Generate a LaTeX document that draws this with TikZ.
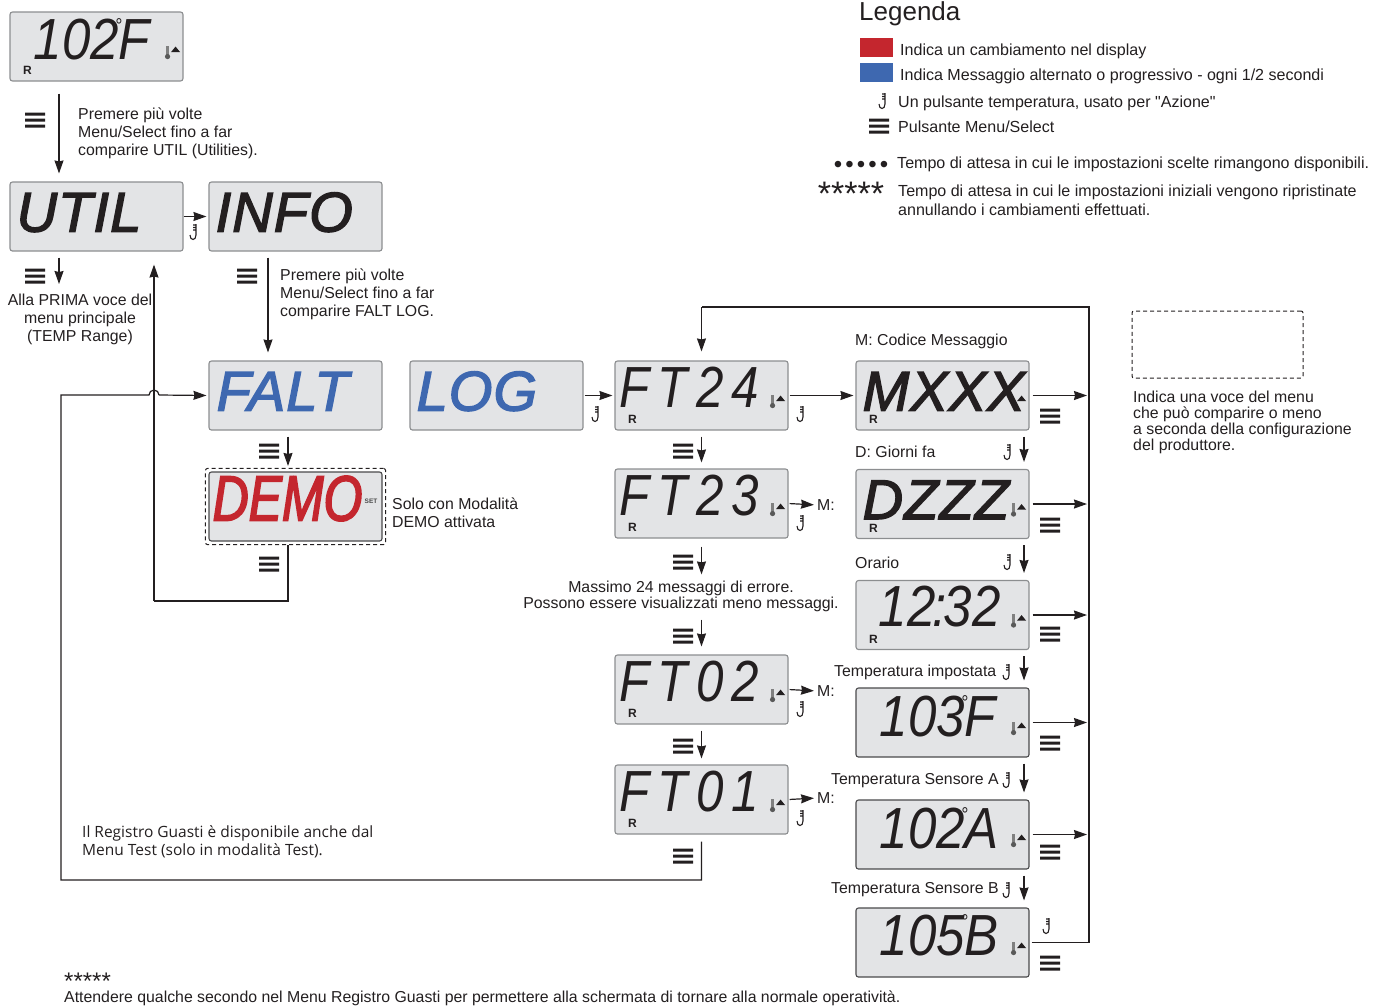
\documentclass[tikz,border=0pt]{standalone}
\usepackage{fontspec}
\setmainfont{Liberation Sans}[Ligatures=TeXOff]
\setsansfont{Liberation Sans}
\newfontfamily\testfont{Open Sans}
\usetikzlibrary{arrows.meta,fit}
\definecolor{panelgray}{HTML}{E3E4E6}
\definecolor{edgegray}{HTML}{8C8E90}
\definecolor{edgedark}{HTML}{4A4A4C}
\definecolor{inkblack}{HTML}{231F20}
\definecolor{msgred}{HTML}{C4262E}
\definecolor{msgblue}{HTML}{3E68B0}
\newcommand{\lcddeg}{\kern-4pt\raisebox{27pt}{\fontsize{20}{20}\selectfont °}\kern-3pt}
\tikzset{
  panel/.style={draw=edgegray, fill=panelgray, line width=1.1pt, rounded corners=2.5pt,
                minimum width=173pt, minimum height=69pt, inner sep=0pt},
  paneldark/.style={panel, draw=edgedark},
  lcdtxt/.style={text=inkblack, inner sep=0pt, anchor=base west, text depth=0pt},
  lcdnum/.style={lcdtxt, font=\fontsize{58}{58}\selectfont\itshape\addfontfeature{FakeStretch=.88}},
  lcdft/.style={lcdtxt, font=\fontsize{58}{58}\selectfont\itshape\addfontfeature{FakeStretch=.85,LetterSpace=14}},
  lcdbig/.style={lcdtxt, font=\fontsize{56}{56}\selectfont\itshape\addfontfeature{FakeBold=2.5,LetterSpace=2}},
  lcdblue/.style={lcdbig, text=msgblue},
  lcdred/.style={lcdtxt, text=msgred, font=\fontsize{64}{64}\selectfont\itshape\addfontfeature{FakeStretch=.78,FakeBold=2.5}},
  rmark/.style={font=\fontsize{12}{12}\selectfont\bfseries, text=inkblack, inner sep=0pt},
  note/.style={font=\fontsize{15.85}{18}\selectfont, text=inkblack, align=left, anchor=west, inner sep=0pt},
  legnote/.style={note, font=\fontsize{16.05}{19}\selectfont},
  flow/.style={draw=inkblack, line width=1.2pt},
  flowtip/.style={flow, -{Stealth[length=13pt,width=9pt,inset=1pt]}, shorten <=3pt, shorten >=2pt},
  optbox/.style={draw=inkblack, dash pattern=on 4pt off 3pt, line width=1pt, rounded corners=2pt, inner sep=3pt},
  menuicon/.pic={\fill[inkblack] (-10,-7.5) rectangle (10,-4.5) (-10,-1.5) rectangle (10,1.5) (-10,4.5) rectangle (10,7.5);},
  hookicon/.pic={\draw[inkblack, line width=1.1pt] (2,-7) -- (2,4) .. controls (2,10) and (-4,10) .. (-4,4)
                   (-1,-6) -- (2,-6) (-1,-3.5) -- (2,-3.5) (-1,-1) -- (2,-1);},
  thermicon/.pic={\fill[black!50] (-1.5,-7) rectangle (1.5,3); \fill[black!65] (0,4) circle (2.6);},
  upmark/.pic={\fill[inkblack] (-4.5,2.5) -- (4.5,2.5) -- (0,-3) -- cycle;},
}
\begin{document}
\begin{tikzpicture}[x=1pt,y=-1pt]
  \useasboundingbox (0,0) rectangle (1375,1005);

  % display panels: name, position, panel style, text style, text, text offset
  \foreach \nm/\cx/\cy/\pst/\tst/\tx/\ox/\oy in {
    temp/96.5/46.5/panel/lcdnum/102\lcddeg F/24/22,
    util/96.5/216.5/panel/lcdbig/UTIL/7/20,
    info/295.5/216.5/panel/lcdbig/INFO/7/20,
    falt/295.5/395.5/panel/lcdblue/FALT/8/20,
    log/496.5/395.5/panel/lcdblue/LOG/7/20,
    demo/295.5/506.5/paneldark/lcdred/DEMO/4/21,
    ft24/701.5/395.5/panel/lcdft/FT24/5/23,
    ft23/701.5/503.5/panel/lcdft/FT23/5/23,
    ft02/701.5/689.5/panel/lcdft/FT02/5/23,
    ft01/701.5/799.5/panel/lcdft/FT01/5/23,
    mxxx/942.5/395.5/panel/lcdbig/MXXX/7/20,
    dzzz/942.5/504/panel/lcdbig/DZZZ/7/20,
    clock/942.5/615/panel/lcdnum/12\kern-3pt:\kern-3pt32/23/24,
    t103/942.5/722.5/paneldark/lcdnum/103\lcddeg F/24/21,
    t102/942.5/834.5/paneldark/lcdnum/102\lcddeg A/24/21,
    t105/942.5/942.5/paneldark/lcdnum/105\lcddeg B/24/22}
  {
    \node[\pst] (\nm) at (\cx,\cy) {};
    \node[\tst] (\nm txt) at ([shift={(\ox pt,\oy pt)}]\nm.south west) {\tx};
  }
  \foreach \nm in {temp,ft24,ft23,ft02,ft01,mxxx,dzzz,clock}
    \node[rmark] (\nm r) at ([shift={(18pt,11pt)}]\nm.south west) {R};
  \foreach \nm in {temp,ft24,ft23,ft02,ft01,dzzz,clock,t103,t102,t105}
    \pic at ([shift={(-16pt,29pt)}]\nm.south east) {thermicon};
  \foreach \nm in {temp,ft24,ft23,ft02,ft01,mxxx,dzzz,clock,t103,t102,t105}
    \pic at ([shift={(-8pt,32pt)}]\nm.south east) {upmark};
  \node[font=\fontsize{6.5}{7}\selectfont\bfseries, text=black!70, inner sep=0pt] (demoset) at (371,501) {SET};
  \node[optbox, fit=(demo)] (demoopt) {};

  % notes
  \node[note] (utilnote) at (78,133) {Premere più volte\\Menu/Select fino a far\\comparire UTIL (Utilities).};
  \node[note, align=center, anchor=center] (allanote) at (80,319) {Alla PRIMA voce del\\menu principale\\(TEMP Range)};
  \node[note] (infonote) at (280,294) {Premere più volte\\Menu/Select fino a far\\comparire FALT LOG.};
  \node[note] (demonote) at (392,513) {Solo con Modalità\\DEMO attivata};
  \node[note, align=center, anchor=center, font=\fontsize{15.85}{16}\selectfont] (maxnote) at (681,596) {Massimo 24 messaggi di errore.\\Possono essere visualizzati meno messaggi.};
  \node[note, font=\fontsize{15.5}{18}\selectfont\testfont] (testnote) at (82,842) {Il Registro Guasti è disponibile anche dal\\Menu Test (solo in modalità Test).};
  \node[note, font=\fontsize{24}{24}\selectfont] (starsnote) at (64,981) {*****};
  \node[note] (waitnote) at (64,998) {Attendere qualche secondo nel Menu Registro Guasti per permettere alla schermata di tornare alla normale operatività.};
  \node[note] (mlabel) at (855,341) {M: Codice Messaggio};
  \node[note] (dlabel) at (855,452) {D: Giorni fa};
  \node[note] (olabel) at (855,563) {Orario};
  \node[note] (tilabel) at (834,672) {Temperatura impostata};
  \node[note] (talabel) at (831,781) {Temperatura Sensore A};
  \node[note] (tblabel) at (831,890) {Temperatura Sensore B};
  \node[note] (m23) at (817,505) {M:};
  \node[note] (m02) at (817,691) {M:};
  \node[note] (m01) at (817,798) {M:};

  % optional item key
  \node[optbox, minimum width=171pt, minimum height=67pt] (optkey) at (1217.5,344.5) {};
  \node[note, font=\fontsize{15.85}{16}\selectfont] (optnote) at (1133,422.5) {Indica una voce del menu\\che può comparire o meno\\a seconda della configurazione\\del produttore.};

  % legend
  \node[note, font=\fontsize{26}{28}\selectfont] (legtitle) at (859,13.5) {Legenda};
  \node[fill=msgred, minimum width=33pt, minimum height=19pt, inner sep=0pt] (legred) at (876.5,47.5) {};
  \node[fill=msgblue, minimum width=33pt, minimum height=19pt, inner sep=0pt] (legblue) at (876.5,72.5) {};
  \node[legnote] (legredtxt) at (900,51.5) {Indica un cambiamento nel display};
  \node[legnote] (legbluetxt) at (900,76.5) {Indica Messaggio alternato o progressivo - ogni 1/2 secondi};
  \node[legnote] (leghooktxt) at (898,103) {Un pulsante temperatura, usato per "Azione"};
  \node[legnote] (legmenutxt) at (898,127) {Pulsante Menu/Select};
  \node[note, anchor=center, font=\fontsize{24}{24}\selectfont\addfontfeature{LetterSpace=13}] (legdots) at (861,167) {•••••};
  \node[legnote] (legdotstxt) at (897,164) {Tempo di attesa in cui le impostazioni scelte rimangono disponibili.};
  \node[note, anchor=center, font=\fontsize{34}{34}\selectfont] (legstars) at (851,194) {*****};
  \node[legnote] (legstarstxt) at (898,200) {Tempo di attesa in cui le impostazioni iniziali vengono ripristinate\\annullando i cambiamenti effettuati.};

  % buttons
  \foreach \px/\py in {35/120,35/276,247/276,269/451,269/564,683/451,683/562,683/636,683/746,683/856,
                       1050/416,1050/525,1050/634,1050/743,1050/852,1050/963,879/126}
    \pic at (\px,\py) {menuicon};
  \foreach \px/\py in {194/231,596/413,801/413,801/522,801/708,801/817,
                       1008/451,1008/561,1007/671,1007/779,1007/889,1047/925,883/100}
    \pic at (\px,\py) {hookicon};

  % connectors
  \coordinate (rail) at (1089,307);
  \coordinate (backturn) at (154,601);
  \coordinate (retturn) at (61,880);
  \coordinate (hop) at (154,395);
  \coordinate (allatop) at (59,286);

  \draw[flowtip] ([xshift=-37.5pt,yshift=-9pt]temp.south) -- ([xshift=-37.5pt,yshift=6pt]util.north);
  \draw[flowtip, shorten <=0pt] (util.east) -- (info.west);
  \draw[flowtip] ([xshift=-37.5pt,yshift=-3pt]util.south) -- (allatop);
  \draw[flowtip] ([xshift=-27.5pt,yshift=-3pt]info.south) -- ([xshift=-27.5pt,yshift=6pt]falt.north);
  \draw[flowtip] ([xshift=-7.5pt,yshift=-3pt]falt.south) -- ([xshift=-7.5pt]demoopt.north);
  \draw[flow] ([xshift=-7.5pt]demoopt.south) |- (backturn);
  \draw[flowtip, shorten <=0pt] (backturn) -- ([yshift=-11pt]util.south -| backturn);
  \draw[flow] (ft01.south) ++(0,7) -- (ft01.south |- retturn) -- (retturn) -- (retturn |- hop)
    -- ([xshift=-5pt]hop) arc[start angle=180, end angle=0, radius=5pt] -- ++(0,0);
  \draw[flowtip, shorten <=0pt] ([xshift=5pt]hop) -- (falt.west);
  \draw[flowtip, shorten <=1pt] (log.east) -- (ft24.west);
  \draw[flowtip, shorten <=1pt] (ft24.east) -- (mxxx.west);
  \draw[flowtip, shorten <=1pt, shorten >=3pt] (ft23.east) -- (m23.west);
  \draw[flowtip, shorten <=1pt, shorten >=3pt] (ft02.east) -- (m02.west);
  \draw[flowtip, shorten <=1pt, shorten >=3pt] (ft01.east) -- (m01.west);
  \draw[flowtip, shorten <=6pt, shorten >=6pt] (ft24.south) -- (ft23.north);
  \draw[flowtip, shorten <=8pt, shorten >=6pt] (ft23.south) -- (ft23.south |- maxnote.north);
  \draw[flowtip, shorten <=8pt, shorten >=8pt] (maxnote.south -| ft02.north) -- (ft02.north);
  \draw[flowtip, shorten <=6pt, shorten >=6pt] (ft02.south) -- (ft01.north);
  \foreach \a/\b in {mxxx/dzzz,dzzz/clock,clock/t103,t103/t102,t102/t105}
    \draw[flowtip, shorten <=6pt, shorten >=7pt] ([xshift=81.5pt]\a.south) -- ([xshift=81.5pt]\b.north);
  \foreach \a in {mxxx,dzzz,clock,t103,t102}
    \draw[flowtip] (\a.east) -- (\a.east -| rail);
  \draw[flow, shorten <=2pt] (t105.east) -| (rail) -- (rail -| ft24.north);
  \draw[flowtip, shorten <=0pt, shorten >=9pt] (rail -| ft24.north) -- (ft24.north);
\end{tikzpicture}
\end{document}
